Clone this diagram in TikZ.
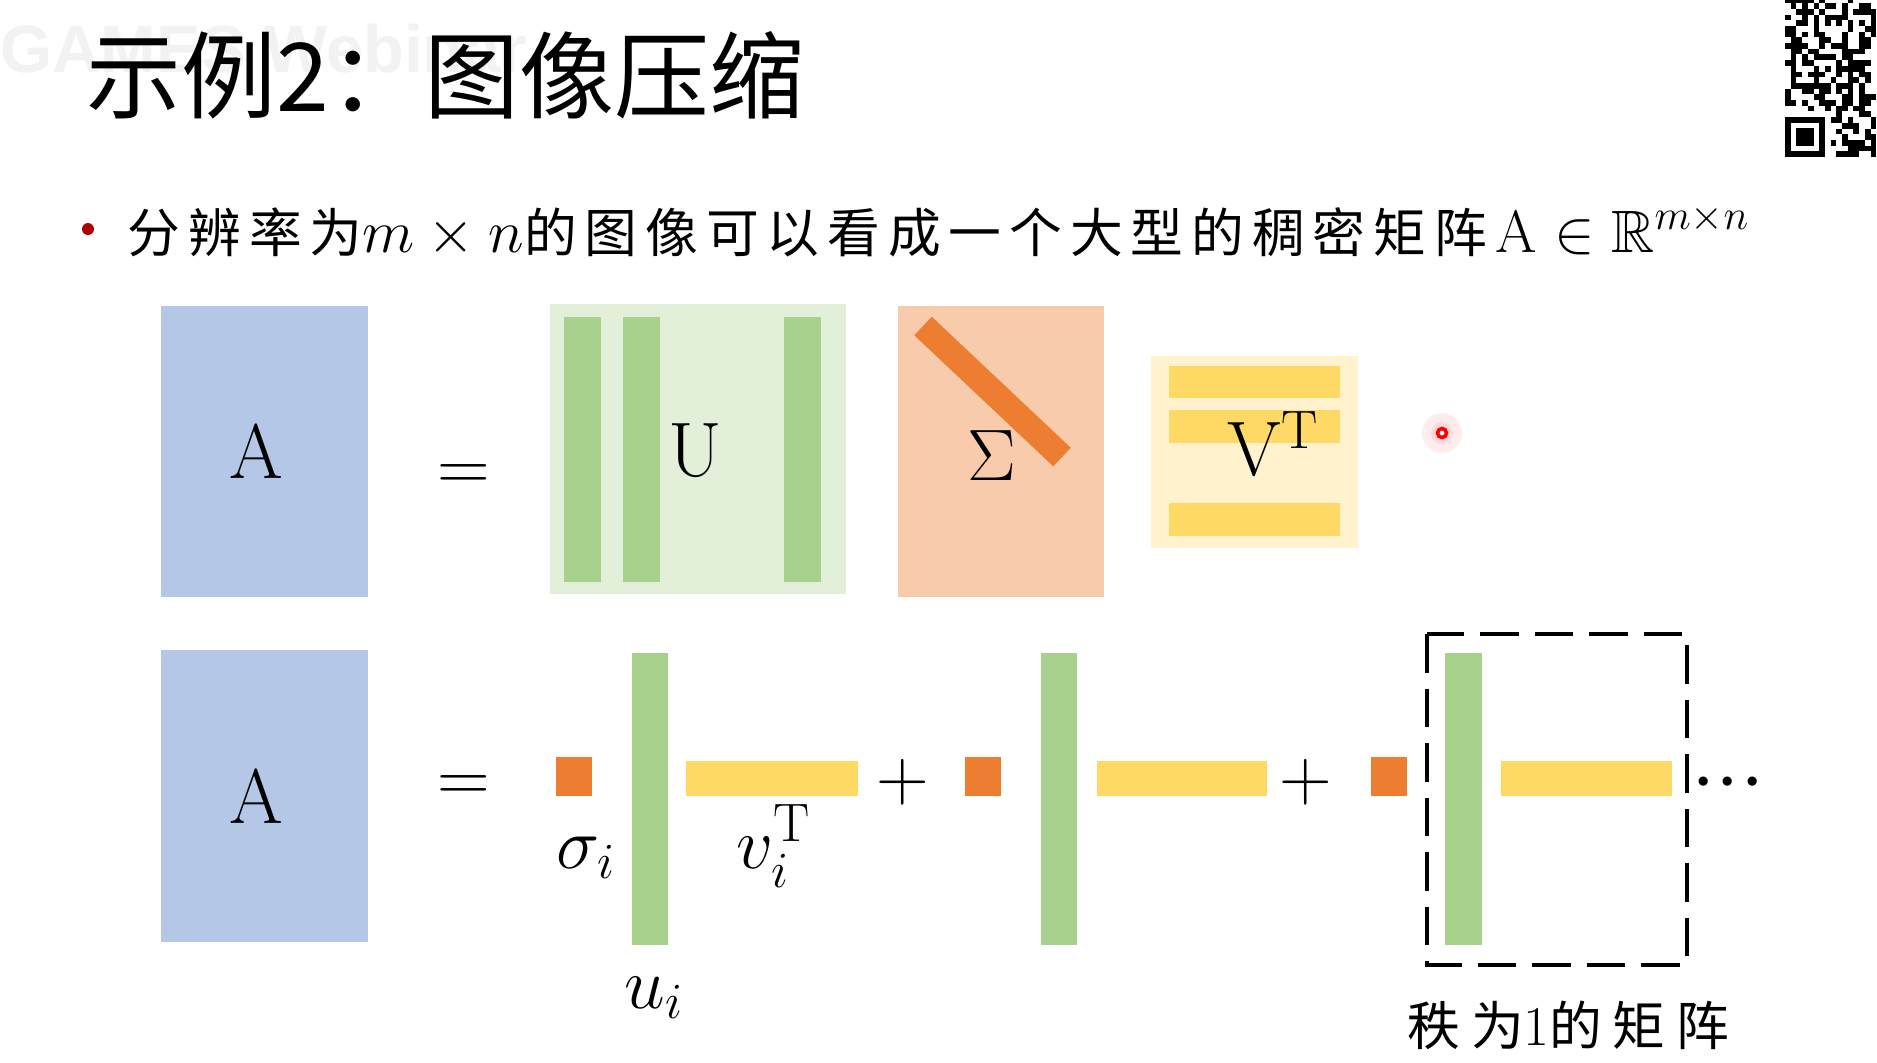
\documentclass[tikz,border=0pt]{standalone}
\usepackage{amsmath,amssymb}
\usepackage{fontspec}
\newfontfamily\cjk{Noto Sans CJK SC}
\newfontfamily\cjkls[LetterSpace=15]{Noto Sans CJK SC}
\newfontfamily\cjkwide[LetterSpace=20]{Noto Sans CJK SC}
\newfontfamily\wmfont{Liberation Sans}
\usetikzlibrary{positioning}
\definecolor{matblue}{HTML}{B4C7E7}
\definecolor{ulight}{HTML}{E2F0D9}
\definecolor{ugreen}{HTML}{A9D18E}
\definecolor{spink}{HTML}{F8CBAD}
\definecolor{sorange}{HTML}{ED7D31}
\definecolor{vlight}{HTML}{FFF2CC}
\definecolor{vyellow}{HTML}{FFD966}
\definecolor{bulletred}{HTML}{B00000}
\newcommand{\bigmath}[1]{{\fontsize{17}{17}\selectfont$#1$}}

\begin{document}
\begin{tikzpicture}[
    x=0.01cm, y=-0.01cm,
    mat/.style={rectangle, inner sep=0pt, outer sep=0pt},
    col/.style={mat, fill=ugreen, minimum width=0.37cm},
    row/.style={mat, fill=vyellow, minimum height=0.33cm},
    sig/.style={mat, fill=sorange, minimum width=0.36cm, minimum height=0.39cm},
    lab/.style={inner sep=0pt, anchor=base, font=\fontsize{22}{22}\selectfont}
]
    \useasboundingbox (0,0) rectangle (1877,1062);
    \fill[white] (0,0) rectangle (1877,1062);

    % Watermark and title
    \node[inner sep=0pt, anchor=base west, text=black!5, font=\wmfont\bfseries\fontsize{19}{19}\selectfont] (wm) at (0,72) {GAMES Webinar};
    \node[inner sep=0pt, anchor=base west, font=\cjk\fontsize{27}{27}\selectfont] (title) at (86,111) {示例2：图像压缩};

    % QR code (top right)
    \pgfmathsetseed{11}
    \foreach \c in {0,...,15}{
        \foreach \r in {0,...,27}{
            \pgfmathrandominteger{\bit}{0}{1}
            \ifnum\c<8 \ifnum\r<8 \def\bit{0}\fi\fi
            \ifnum\bit=1 \fill (1785+5.7*\c,157-5.7*\r) rectangle ++(5.7,-5.7); \fi
        }
    }
    \fill (1785,157) rectangle (1825,117);
    \fill[white] (1790.7,151.3) rectangle (1819.3,122.7);
    \fill (1796.4,145.6) rectangle (1813.6,128.4);

    % Bullet line
    \fill[bulletred] (88,229) circle (6);
    \node[inner sep=0pt, anchor=base west, font=\fontsize{15}{15}\selectfont] (bullet) at (127,252)
        {{\cjkls 分辨率为}\bigmath{m\times n}{\cjkls 的图像可以看成一个大型的稠密矩阵}\,\bigmath{\mathrm{A}\in\mathbb{R}^{m\times n}}};

    % Top row: A = U Sigma V^T
    \node[mat, fill=matblue, minimum width=2.07cm, minimum height=2.91cm] (A1) at (264.5,451.5) {};
    \node[lab] (A1lab) at (256,478) {$\mathrm{A}$};
    \node[lab] (eq1) at (464,490) {$=$};

    \node[mat, fill=ulight, minimum width=2.96cm, minimum height=2.90cm] (U) at (698,449) {};
    \node[col, minimum height=2.65cm] (u1) at (582.5,449.5) {};
    \node[col, minimum height=2.65cm] (u2) at (641.5,449.5) {};
    \node[col, minimum height=2.65cm] (u3) at (802,449.5) {};
    \node[lab] (Ulab) at (695,476) {$\mathrm{U}$};

    \node[mat, fill=spink, minimum width=2.06cm, minimum height=2.91cm] (S) at (1001,451.5) {};
    \coordinate (d1) at (923,326);
    \coordinate (d2) at (1062,457);
    \draw[sorange, line width=0.255cm] (d1) -- (d2);
    \node[lab] (Slab) at (992,480) {$\Sigma$};

    \node[mat, fill=vlight, minimum width=2.07cm, minimum height=1.92cm] (V) at (1254.5,452) {};
    \node[row, minimum width=1.71cm, minimum height=0.32cm] (v1) at (1254.5,382) {};
    \node[row, minimum width=1.71cm] (v2) at (1254.5,426.5) {};
    \node[row, minimum width=1.71cm] (v3) at (1254.5,519.5) {};
    \node[lab, anchor=base west] (Vlab) at (1227,475) {$\mathrm{V}^{\mathrm{T}}$};

    % pointer
    \fill[red!7] (1442,433) circle (20);
    \fill[red!15] (1442,433) circle (11);
    \draw[red, line width=1pt, fill=white] (1442,433) circle (4.5);

    % Bottom row: sum of rank-1 matrices
    \node[mat, fill=matblue, minimum width=2.07cm, minimum height=2.92cm] (A2) at (264.5,796) {};
    \node[lab] (A2lab) at (256,823) {$\mathrm{A}$};
    \node[lab] (eq2) at (464,801) {$=$};

    \node[sig] (s1) at (574,776.5) {};
    \node[col, minimum width=0.36cm, minimum height=2.92cm] (c1) at (650,799) {};
    \node[row, minimum width=1.72cm, minimum height=0.35cm] (r1) at (772,778.5) {};
    \node[lab] (plus1) at (903,800) {$+$};

    \node[sig] (s2) at (983,776.5) {};
    \node[col, minimum width=0.36cm, minimum height=2.92cm] (c2) at (1059,799) {};
    \node[row, minimum width=1.70cm, minimum height=0.35cm] (r2) at (1182,778.5) {};
    \node[lab] (plus2) at (1306,800) {$+$};

    \node[sig] (s3) at (1389,776.5) {};
    \node[col, minimum width=0.37cm, minimum height=2.92cm] (c3) at (1463.5,799) {};
    \node[row, minimum width=1.71cm, minimum height=0.35cm] (r3) at (1586.5,778.5) {};
    \draw[line width=1.2pt, dash pattern=on 11pt off 4.5pt] (1427,634) rectangle (1687,965);
    \node[lab, font=\fontsize{24}{24}\selectfont] (dots) at (1728,803) {$\mathord{\cdotp}\mathord{\cdotp}\mathord{\cdotp}$};

    % Labels
    \node[lab, anchor=base west] (sigi) at (556,868) {$\sigma_i$};
    \node[lab, anchor=base west] (vi) at (736,868) {$v_i^{\mathrm{T}}$};
    \node[lab, anchor=base west] (ui) at (624,1008) {$u_i$};
    \node[inner sep=0pt, anchor=base west, font=\cjkwide\fontsize{15}{15}\selectfont] (rank) at (1407,1045) {秩为{\rmfamily\fontsize{16}{16}\selectfont 1}的矩阵};
\end{tikzpicture}
\end{document}
